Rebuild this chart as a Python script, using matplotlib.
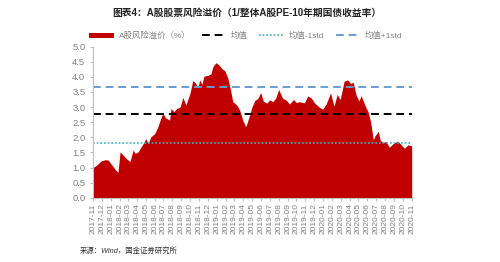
#!/usr/bin/env python3
"""
A-share equity risk premium (1/PE minus 10y bond yield), area chart
with mean and +/-1 std reference lines.

Outputs:
    out.png
"""

import matplotlib

matplotlib.use("Agg")

import matplotlib.dates as mdates
import matplotlib.pyplot as plt
import pandas as pd

plt.rcParams["font.family"] = ["Liberation Sans", "Noto Sans CJK SC"]

TITLE = "图表4：A股股票风险溢价（1/整体A股PE-10年期国债收益率）"
SOURCE = "来源：Wind，国金证券研究所"

SERIES_LABEL = "A股风险溢价（%）"
MEAN_LABEL = "均值"
LOW_LABEL = "均值-1std"
HIGH_LABEL = "均值+1std"

DATES = [
    "2017-11-01", "2017-11-12", "2017-11-29", "2017-12-13", "2017-12-23",
    "2017-12-30", "2018-01-09", "2018-01-19", "2018-01-26", "2018-02-02",
    "2018-02-12", "2018-02-23", "2018-03-08", "2018-03-19", "2018-03-26",
    "2018-04-05", "2018-04-15", "2018-04-26", "2018-05-01", "2018-05-09",
    "2018-05-19", "2018-06-01", "2018-06-12", "2018-06-22", "2018-06-29",
    "2018-07-08", "2018-07-22", "2018-07-27", "2018-08-06", "2018-08-15",
    "2018-08-27", "2018-09-06", "2018-09-16", "2018-09-30", "2018-10-10",
    "2018-10-20", "2018-10-27", "2018-11-03", "2018-11-10", "2018-11-17",
    "2018-12-01", "2018-12-11", "2018-12-18", "2018-12-28", "2019-01-07",
    "2019-01-17", "2019-01-28", "2019-02-07", "2019-02-17", "2019-02-24",
    "2019-03-10", "2019-03-20", "2019-03-31", "2019-04-10", "2019-04-17",
    "2019-05-01", "2019-05-11", "2019-05-21", "2019-05-31", "2019-06-09",
    "2019-06-21", "2019-07-01", "2019-07-11", "2019-07-21", "2019-08-01",
    "2019-08-14", "2019-08-28", "2019-09-07", "2019-09-21", "2019-10-01",
    "2019-10-11", "2019-10-28", "2019-11-09", "2019-11-21", "2019-12-01",
    "2019-12-18", "2019-12-30", "2020-01-11", "2020-01-26", "2020-02-07",
    "2020-02-18", "2020-02-28", "2020-03-13", "2020-03-25", "2020-04-04",
    "2020-04-13", "2020-04-23", "2020-05-03", "2020-05-10", "2020-05-26",
    "2020-06-03", "2020-06-12", "2020-06-21", "2020-06-27", "2020-07-08",
    "2020-07-15", "2020-07-23", "2020-08-04", "2020-08-15", "2020-08-29",
    "2020-09-13", "2020-09-25", "2020-10-06", "2020-10-18", "2020-10-31",
]

PREMIUM = [
    1.00, 1.07, 1.22, 1.26, 1.25,
    1.16, 1.03, 0.90, 0.85, 1.52,
    1.42, 1.30, 1.20, 1.58, 1.47,
    1.52, 1.68, 1.85, 1.96, 1.80,
    2.02, 2.12, 2.35, 2.63, 2.80,
    2.65, 2.57, 2.95, 2.85, 2.95,
    3.00, 3.32, 3.07, 3.45, 3.88,
    3.78, 3.65, 3.90, 3.75, 4.02,
    4.05, 4.10, 4.34, 4.47, 4.40,
    4.28, 4.20, 3.97, 3.55, 3.18,
    3.07, 2.90, 2.55, 2.35, 2.55,
    3.00, 3.22, 3.28, 3.48, 3.20,
    3.13, 3.24, 3.18, 3.28, 3.58,
    3.30, 3.22, 3.10, 3.25, 3.15,
    3.18, 3.14, 3.37, 3.30, 3.15,
    3.00, 2.93, 3.10, 3.47, 3.03,
    3.42, 3.25, 3.86, 3.90, 3.78,
    3.82, 3.40, 3.20, 3.38, 3.00,
    2.85, 2.50, 1.92, 2.05, 2.20,
    1.90, 1.83, 1.86, 1.67, 1.80,
    1.88, 1.75, 1.64, 1.75, 1.72,
]

MEAN = 2.76
LOW = 1.82
HIGH = 3.67

TICK_MONTHS = pd.date_range("2017-11-01", "2020-11-01", freq="MS")
Y_TICKS = [0.0, 0.5, 1.0, 1.5, 2.0, 2.5, 3.0, 3.5, 4.0, 4.5, 5.0]

FILL_COLOR = "#C00000"
GREY = "#808080"
SPINE = "#BFBFBF"


def main() -> None:
    dates = pd.to_datetime(DATES)

    fig = plt.figure(figsize=(5.0, 2.62), dpi=100)
    ax = fig.add_axes([0.186, 0.245, 0.638, 0.577])

    ax.fill_between(dates, PREMIUM, 0, color=FILL_COLOR, linewidth=0,
                    label=SERIES_LABEL)

    x0, x1 = TICK_MONTHS[0], TICK_MONTHS[-1]
    ax.plot([x0, x1], [MEAN, MEAN], color="black", linestyle=(0, (4, 2.5)),
            linewidth=1.4, label=MEAN_LABEL)
    ax.plot([x0, x1], [LOW, LOW], color="#3FB0C8", linestyle=(0, (1, 1.2)),
            linewidth=1.2, label=LOW_LABEL)
    ax.plot([x0, x1], [HIGH, HIGH], color="#6A9BCF", linestyle=(0, (4, 2.5)),
            linewidth=1.4, label=HIGH_LABEL)

    ax.set_xlim(x0, x1)
    ax.set_ylim(0, 5.0)
    ax.set_yticks(Y_TICKS)
    ax.set_yticklabels([f"{v:.1f}" for v in Y_TICKS])
    ax.set_xticks(TICK_MONTHS)
    ax.xaxis.set_major_formatter(mdates.DateFormatter("%Y-%m"))

    for side in ("top", "right"):
        ax.spines[side].set_visible(False)
    for side in ("left", "bottom"):
        ax.spines[side].set_color(SPINE)
        ax.spines[side].set_linewidth(0.8)

    ax.tick_params(axis="x", labelsize=6, labelcolor=GREY, rotation=90,
                   length=2.5, color=SPINE, pad=1.5)
    ax.tick_params(axis="y", labelsize=6.8, labelcolor=GREY, length=2.5,
                   color=SPINE, pad=3)

    fig.text(0.494, 0.951, TITLE, ha="center", va="center", fontsize=7,
             fontweight="bold", color="#222222")

    fig.legend(loc="center", bbox_to_anchor=(0.492, 0.863), ncol=4,
               frameon=False, fontsize=6, labelcolor=GREY, handlelength=3.0,
               handleheight=0.6, columnspacing=1.4, handletextpad=0.5)

    fig.text(0.16, 0.04, SOURCE, ha="left", va="center", fontsize=5.3,
             style="italic", color="#333333")

    fig.savefig("out.png", dpi=100)
    plt.close(fig)


if __name__ == "__main__":
    main()
